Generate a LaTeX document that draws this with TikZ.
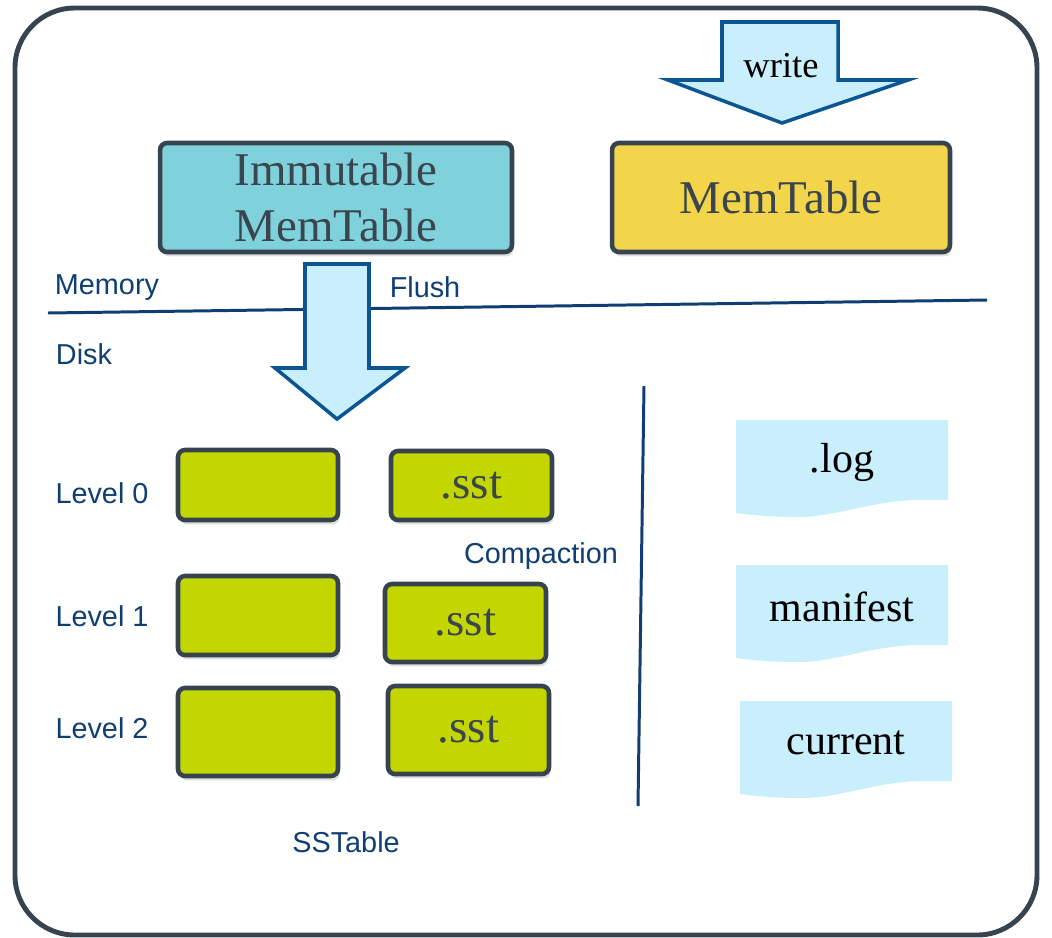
\documentclass[tikz,border=0pt]{standalone}
\usepackage{fontspec}
\setmainfont{Liberation Serif}
\setsansfont{Liberation Sans}
\usetikzlibrary{positioning,shadows}

\definecolor{framegray}{HTML}{37444F}
\definecolor{boxtext}{HTML}{3B454D}
\definecolor{arrowfill}{HTML}{C9EEFC}
\definecolor{arrowline}{HTML}{0A5592}
\definecolor{labelblue}{HTML}{0F3F72}
\definecolor{memyellow}{HTML}{F2D54B}
\definecolor{immteal}{HTML}{7FD1DC}
\definecolor{sstgreen}{HTML}{C4D600}

% a file sheet with a wavy lower edge
\newcommand{\filedoc}[4]{%
  \begin{scope}[shift={(#2,#3)}]
    \fill[arrowfill] (0,0) -- (212,0) -- (212,80) -- (180,80)
      .. controls (135,81) and (100,97) .. (62,97)
      .. controls (35,97) and (15,95) .. (0,93) -- cycle;
    \node[doctext] (#1) at (106,42) {#4};
  \end{scope}}

\begin{document}
\begin{tikzpicture}[
  x=0.02cm, y=-0.02cm,
  frame/.style={draw=framegray, line width=2.8pt, rounded corners=34pt},
  tablebox/.style={rectangle, rounded corners=4pt, draw=framegray,
    line width=2.6pt, inner sep=0pt, text=boxtext, align=center,
    font=\fontsize{26.7}{32}\selectfont,
    drop shadow={shadow xshift=1pt, shadow yshift=-2.5pt, opacity=0.25}},
  sstbox/.style={tablebox, fill=sstgreen, minimum width=3.2cm},
  blockarrow/.style={fill=arrowfill, draw=arrowline, line width=2pt,
    line join=miter},
  divider/.style={draw=labelblue, line width=1.7pt},
  lbl/.style={text=labelblue, inner sep=0pt, font=\sffamily\fontsize{16.4}{19.7}\selectfont},
  doctext/.style={inner sep=0pt, font=\fontsize{23.9}{28}\selectfont},
]
  \useasboundingbox (0,0) rectangle (1052,937);
  \draw[frame] (15,8) rectangle (1037,935);

  % memory side
  \draw[blockarrow] (722,22) -- (838,22) -- (838,80) -- (908,80)
    -- (782,123) -- (668,80) -- (722,80) -- cycle;
  \node[inner sep=0pt, font=\fontsize{20.8}{25}\selectfont] (write) at (781,66) {write};
  \node[tablebox, fill=memyellow, minimum width=6.76cm, minimum height=2.18cm]
    (mem) at (781,197.5) {MemTable};
  \node[tablebox, fill=immteal, minimum width=7.04cm, minimum height=2.18cm]
    (imm) at (336,197.5) {Immutable\\MemTable};

  \draw[divider] (48,313) -- (987,300);
  \node[lbl] (memory) at (107,288) {Memory};
  \node[lbl] (disk) at (84,354) {Disk};

  \draw[blockarrow] (305,264) -- (369,264) -- (369,368) -- (405,368)
    -- (337,419) -- (275,368) -- (305,368) -- cycle;
  \node[lbl] (flush) at (425,287) {Flush};

  % disk side
  \node[sstbox, minimum height=1.4cm] (l0a) at (258,485) {};
  \node[sstbox, minimum height=1.38cm, minimum width=3.22cm] (l0b) at (471.5,485.5) {.sst};
  \node[sstbox, minimum height=1.58cm] (l1a) at (258,615.5) {};
  \node[sstbox, minimum height=1.56cm, minimum width=3.22cm] (l1b) at (465.5,623) {.sst};
  \node[sstbox, minimum height=1.76cm] (l2a) at (258,732) {};
  \node[sstbox, minimum height=1.76cm, minimum width=3.22cm] (l2b) at (468.5,730) {.sst};

  \node[lbl] (lev0) at (102,493) {Level 0};
  \node[lbl] (lev1) at (102,616) {Level 1};
  \node[lbl] (lev2) at (102,728) {Level 2};
  \node[lbl] (compact) at (541,556) {Compaction};
  \node[lbl] (sstable) at (346,842) {SSTable};

  \draw[divider] (644,386) -- (638,806);

  \filedoc{log}{736}{420}{.log}
  \filedoc{manifest}{736}{565}{manifest}
  \filedoc{current}{740}{701}{current}
\end{tikzpicture}
\end{document}
